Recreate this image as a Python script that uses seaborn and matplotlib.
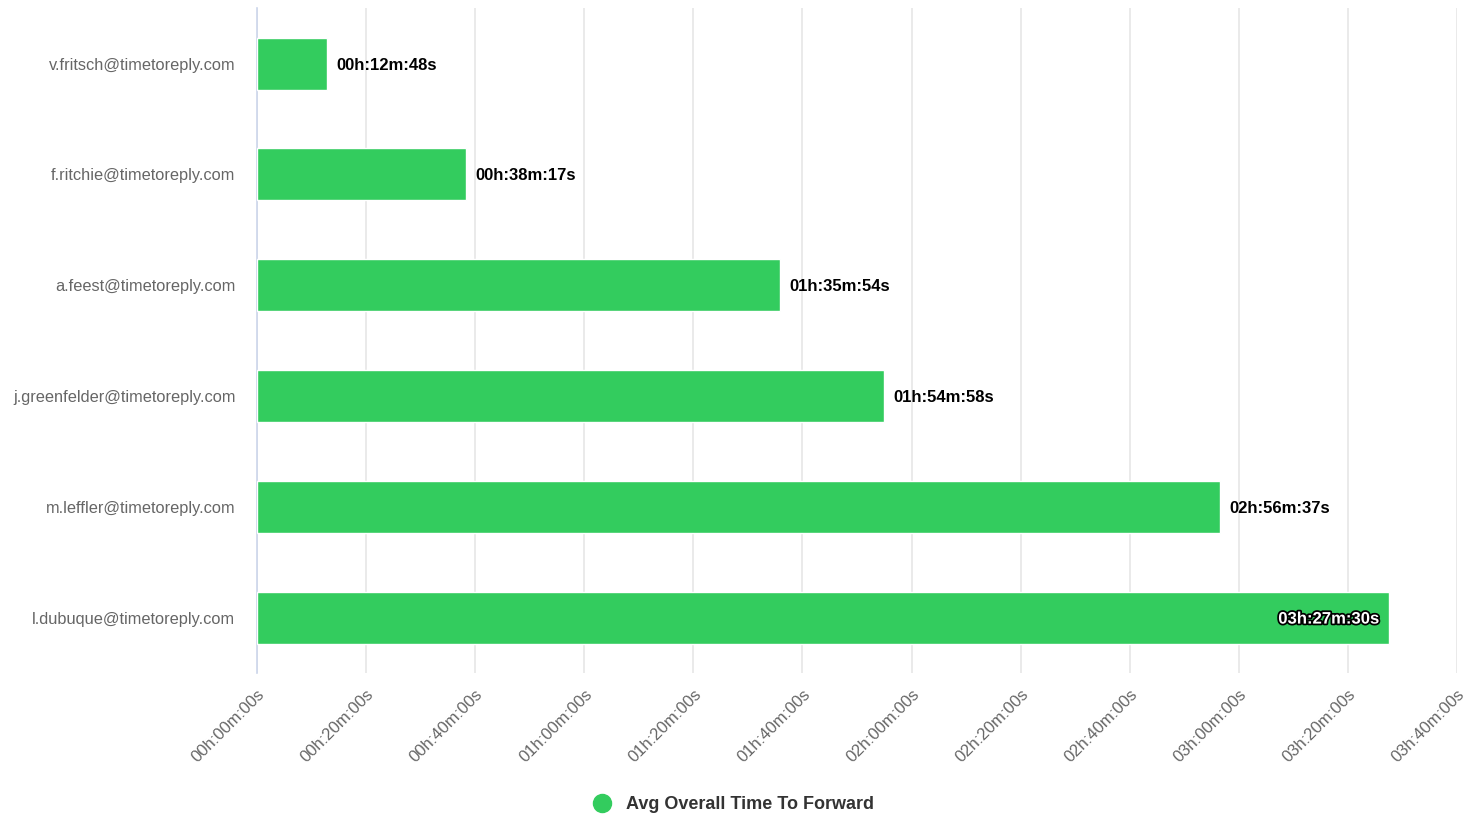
import pandas as pd
import matplotlib.pyplot as plt
import matplotlib.patheffects as pe
from matplotlib.ticker import FuncFormatter, MultipleLocator
from matplotlib.lines import Line2D
import seaborn as sns

sns.set_style('white')
plt.rcParams['font.family'] = ['Liberation Sans', 'DejaVu Sans']

# Dados
usuarios = ['v.fritsch@timetoreply.com', 'f.ritchie@timetoreply.com', 'a.feest@timetoreply.com',
            'j.greenfelder@timetoreply.com', 'm.leffler@timetoreply.com', 'l.dubuque@timetoreply.com']
tempos_seg = [768, 2297, 5754, 6898, 10597, 12450]
serie = 'Avg Overall Time To Forward'

df = pd.DataFrame({'usuario': usuarios, 'tempo': tempos_seg})

verde = '#33cc5e'


def fmt_tempo(s, pos=None):
    s = int(round(s))
    return f'{s // 3600:02d}h:{(s % 3600) // 60:02d}m:{s % 60:02d}s'


fig = plt.figure(figsize=(14.76, 8.17), dpi=100)
ax = fig.add_axes([0.1741, 0.1763, 0.8130, 0.8137])

sns.barplot(data=df, x='tempo', y='usuario', orient='h', color=verde, width=0.47,
            saturation=1, ax=ax, zorder=3)

ax.set_xlim(0, 13200)
ax.set_ylim(5.5, -0.5)
ax.xaxis.set_major_locator(MultipleLocator(1200))
ax.xaxis.set_major_formatter(FuncFormatter(fmt_tempo))
ax.grid(axis='x', color='#e6e6e6', linewidth=1.2, zorder=0)
ax.grid(axis='y', visible=False)
for lado in ['top', 'right', 'bottom']:
    ax.spines[lado].set_visible(False)
ax.spines['left'].set_color('#ccd6eb')
ax.spines['left'].set_linewidth(1.2)
ax.set_xlabel('')
ax.set_ylabel('')
ax.tick_params(axis='y', length=0, pad=15.5, labelsize=11.8, labelcolor='#666666')
ax.tick_params(axis='x', length=0, pad=10, labelsize=12, labelcolor='#666666')
for lbl in ax.get_xticklabels():
    lbl.set_rotation(45)
    lbl.set_ha('right')
    lbl.set_va('top')
    lbl.set_rotation_mode('anchor')

# Rótulos das barras
for i, t in enumerate(tempos_seg):
    if t > 12000:
        ax.text(t - 110, i, fmt_tempo(t), ha='right', va='center_baseline', fontsize=12,
                fontweight='bold', color='white', zorder=5,
                path_effects=[pe.withStroke(linewidth=2.5, foreground='black')])
    else:
        ax.text(t + 100, i, fmt_tempo(t), ha='left', va='center_baseline', fontsize=12,
                fontweight='bold', color='black', zorder=5)

# Legenda
handle = Line2D([], [], marker='o', linestyle='', markersize=13, markerfacecolor=verde,
                markeredgecolor=verde)
fig.legend([handle], [serie], loc='center', bbox_to_anchor=(0.494, 0.015), frameon=False,
           prop={'weight': 'bold', 'size': 13}, labelcolor='#333333', handletextpad=0.3)

plt.savefig('out.png', dpi=100)
